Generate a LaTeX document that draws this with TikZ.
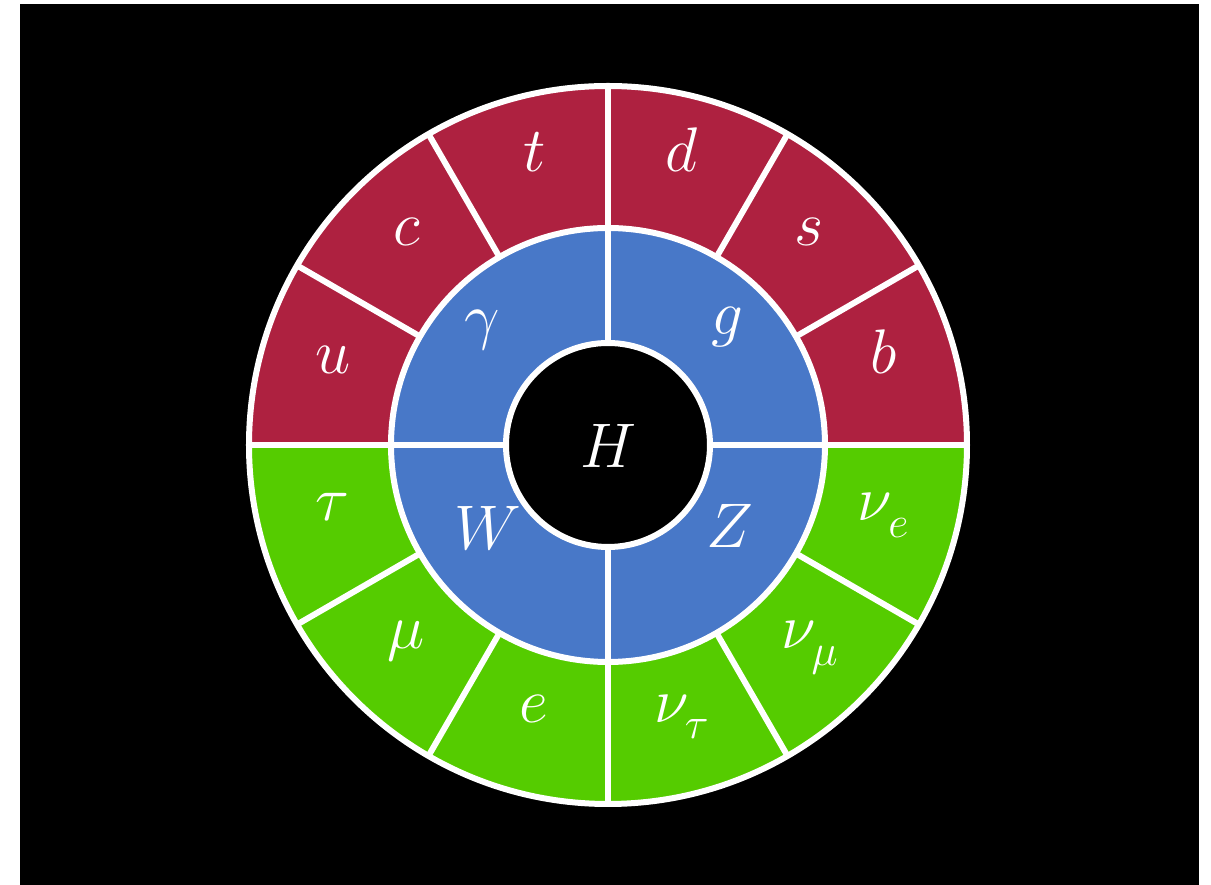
\RequirePackage{fix-cm}
\documentclass[tikz,border=0pt]{standalone}
\definecolor{quarkred}{HTML}{AE2140}
\definecolor{bosonblue}{HTML}{4878C8}
\definecolor{leptongreen}{HTML}{55CC00}
\newcommand{\lowsub}[1]{_{\lower7pt\hbox{$\scriptstyle #1$}}}
\tikzset{
  wl/.style={draw=white, line width=6pt},
  lbl/.style={text=white, font=\fontsize{63pt}{70pt}\selectfont, inner sep=0pt, anchor=mid},
}
\begin{document}
\begin{tikzpicture}
\useasboundingbox (-608pt,-440pt) rectangle (603pt,445pt);
\fill[white] (-608pt,-440pt) rectangle (603pt,445pt);
\fill[black] (-588pt,-440pt) rectangle (591pt,441pt);
% rings
\fill[quarkred] (0:359pt) arc[start angle=0, end angle=180, radius=359pt] -- (180:217pt) arc[start angle=180, end angle=0, radius=217pt] -- cycle;
\fill[leptongreen] (180:359pt) arc[start angle=180, end angle=360, radius=359pt] -- (0:217pt) arc[start angle=360, end angle=180, radius=217pt] -- cycle;
\fill[bosonblue] (0,0) circle[radius=217pt];
\fill[black] (0,0) circle[radius=102pt];
% dividers
\foreach \a in {0,30,...,330} \draw[wl] (\a:217pt) -- (\a:359pt);
\foreach \a in {0,90,180,270} \draw[wl] (\a:102pt) -- (\a:217pt);
\draw[wl] (0,0) circle[radius=359pt];
\draw[wl] (0,0) circle[radius=217pt];
\draw[wl] (0,0) circle[radius=102pt];
% quarks
\node[lbl] (u) at (165:285pt) {$u$};
\node[lbl] (c) at (135:285pt) {$c$};
\node[lbl] (t) at (105:285pt) {$t$};
\node[lbl] (d) at (75:285pt) {$d$};
\node[lbl] (s) at (45:285pt) {$s$};
\node[lbl] (b) at (15:285pt) {$b$};
% leptons
\node[lbl] (tau) at (195:285pt) {$\tau$};
\node[lbl] (mu) at (225:285pt) {$\mu$};
\node[lbl] (e) at (255:285pt) {$e$};
\node[lbl] (nutau) at (285:285pt) {$\nu\lowsub{\tau}$};
\node[lbl] (numu) at (315:285pt) {$\nu\lowsub{\mu}$};
\node[lbl] (nue) at (345:285pt) {$\nu\lowsub{e}$};
% bosons
\node[lbl] (gamma) at (-126pt,110pt) {$\gamma$};
\node[lbl] (g) at (119pt,113pt) {$g$};
\node[lbl] (W) at (-120pt,-102pt) {$W$};
\node[lbl] (Z) at (122pt,-100pt) {$Z$};
\node[lbl, anchor=base] (H) at (0pt,-23pt) {$H$};
\end{tikzpicture}
\end{document}
